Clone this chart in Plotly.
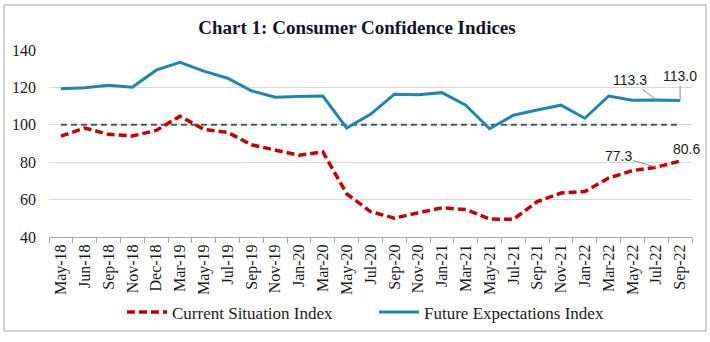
import plotly.graph_objects as go

# Survey rounds (x-axis categories)
months = ["May-18", "Jun-18", "Sep-18", "Nov-18", "Dec-18", "Mar-19", "May-19",
          "Jul-19", "Sep-19", "Nov-19", "Jan-20", "Mar-20", "May-20", "Jul-20",
          "Sep-20", "Nov-20", "Jan-21", "Mar-21", "May-21", "Jul-21", "Sep-21",
          "Nov-21", "Jan-22", "Mar-22", "May-22", "Jul-22", "Sep-22"]

# Current Situation Index
current_situation = [93.9, 98.3, 94.9, 94.0, 97.0, 104.6, 97.6, 96.0, 89.3, 86.4,
                     83.7, 85.5, 63.1, 53.6, 50.1, 52.9, 55.6, 54.7, 49.6, 49.5,
                     58.9, 63.5, 64.3, 71.5, 75.5, 77.3, 80.6]

# Future Expectations Index
future_expectations = [119.3, 119.8, 121.2, 120.1, 129.2, 133.4, 128.7, 124.9,
                       118.2, 114.7, 115.2, 115.4, 98.3, 105.6, 116.3, 116.1,
                       117.2, 110.5, 97.9, 105.1, 107.9, 110.5, 103.5, 115.4,
                       113.1, 113.3, 113.0]

neutral_level = 100
y_ticks = [40, 60, 80, 100, 120, 140]

W, H = 710, 342
ML, MR, MT, MB = 49, 18, 50, 101
PW, PH = W - ML - MR, H - MT - MB


def px_x(p):
    return (p - ML) / PW


def px_y(p):
    return (H - MB - p) / PH


SERIF = "Liberation Serif"
SANS = "Liberation Sans"
INK = "#1a1a1a"

fig = go.Figure()
fig.add_trace(go.Scatter(
    x=months, y=current_situation, mode="lines", name="Current Situation Index",
    line=dict(color="#cc0000", width=3.5, dash="8px,4px"),
))
fig.add_trace(go.Scatter(
    x=months, y=future_expectations, mode="lines", name="Future Expectations Index",
    line=dict(color="#1f86b2", width=3),
))

# neutral reference at 100, above the grid but under the index lines
fig.add_shape(type="line", xref="x", yref="y", x0=months[0], x1=months[-1],
              y0=neutral_level, y1=neutral_level,
              line=dict(color="#4a5862", width=2, dash="6px,4px"), layer="between")

# outer frame
fig.add_shape(type="rect", xref="paper", yref="paper",
              x0=px_x(4), x1=px_x(706), y0=px_y(337), y1=px_y(4),
              line=dict(color="#a6a6a6", width=1))

lab_font = dict(family=SANS, size=14, color=INK)
i_jul, i_sep = len(months) - 2, len(months) - 1
fig.add_annotation(x=months[i_jul], y=future_expectations[i_jul],
                   text=f"{future_expectations[i_jul]:.1f}", font=lab_font,
                   showarrow=True, arrowhead=0, arrowwidth=1, arrowcolor="#8c8c8c",
                   ax=-26, ay=-20)
fig.add_annotation(x=months[i_sep], y=future_expectations[i_sep],
                   text=f"{future_expectations[i_sep]:.1f}", font=lab_font,
                   showarrow=True, arrowhead=0, arrowwidth=1, arrowcolor="#8c8c8c",
                   ax=0, ay=-24)
fig.add_annotation(x=months[i_jul], y=current_situation[i_jul],
                   text=f"{current_situation[i_jul]:.1f}", font=lab_font,
                   showarrow=True, arrowhead=0, arrowwidth=1, arrowcolor="#8c8c8c",
                   ax=-38, ay=-11)
fig.add_annotation(x=months[i_sep], y=current_situation[i_sep],
                   text=f"{current_situation[i_sep]:.1f}", font=lab_font,
                   showarrow=False, xshift=6, yshift=12)

fig.update_layout(
    width=W, height=H,
    margin=dict(l=ML, r=MR, t=MT, b=MB),
    paper_bgcolor="white", plot_bgcolor="white",
    title=dict(text="<b>Chart 1: Consumer Confidence Indices</b>",
               font=dict(family=SERIF, size=19, color="#141428"),
               x=357 / W, xanchor="center", xref="container",
               y=1 - 27 / H, yanchor="middle", yref="container"),
    showlegend=True,
    legend=dict(orientation="h", x=px_x(122), xanchor="left",
                y=px_y(318), yanchor="middle",
                font=dict(family=SERIF, size=17, color=INK),
                entrywidth=197, entrywidthmode="pixels",
                itemwidth=40, bgcolor="rgba(0,0,0,0)"),
    xaxis=dict(type="category", range=[-0.5, len(months) - 0.5],
               tickangle=-90, tickson="boundaries", ticks="outside",
               ticklen=5, tickcolor="#a6a6a6", showline=True, linecolor="#a6a6a6",
               linewidth=1, showgrid=False, fixedrange=True,
               tickfont=dict(family=SERIF, size=16, color=INK)),
    yaxis=dict(range=[40, 140], tickvals=y_ticks, showgrid=True,
               gridcolor="#d9d9d9", gridwidth=1, zeroline=False, showline=False,
               ticks="", ticklabelstandoff=12,
               tickfont=dict(family=SERIF, size=16, color=INK)),
)

fig.write_html("out.html")
